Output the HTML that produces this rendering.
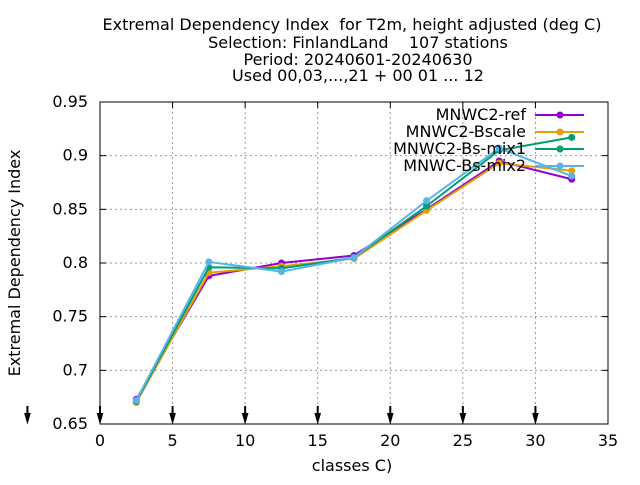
<!DOCTYPE html>
<html><head><meta charset="utf-8"><style>
body{margin:0;background:#fff}
svg{font-family:"DejaVu Sans","Liberation Sans",sans-serif}
text{white-space:pre}
</style></head><body>
<svg id="c" width="640" height="480">
<g font-size="16" text-anchor="middle">
<text x="352" y="30">Extremal Dependency Index  for T2m, height adjusted (deg C)</text>
<text x="358" y="48">Selection: FinlandLand    107 stations</text>
<text x="358" y="65">Period: 20240601-20240630</text>
<text x="358" y="81">Used 00,03,...,21 + 00 01 ... 12</text>
</g>
<text font-size="16" text-anchor="middle" transform="translate(20,263) rotate(-90)">Extremal Dependency Index</text>
<text font-size="16" x="352" y="471" text-anchor="middle">classes C)</text>
<g id="grid"></g><g id="series"></g>
<rect x="100" y="102" width="508" height="322" fill="none" stroke="#000"/>
<g id="legend"></g>
</svg>
<script>
const xCats=[2.5,7.5,12.5,17.5,22.5,27.5,32.5];
const xTicks=[0,5,10,15,20,25,30,35];
const yTicks=[0.65,0.7,0.75,0.8,0.85,0.9,0.95];
const refVals=[0.673,0.788,0.800,0.807,0.850,0.895,0.878];
const bscaleVals=[0.670,0.791,0.797,0.804,0.849,0.893,0.886];
const mix1Vals=[0.671,0.796,0.795,0.805,0.853,0.905,0.917];
const mix2Vals=[0.672,0.801,0.792,0.805,0.858,0.907,0.881];
const names=["MNWC2-ref","MNWC2-Bscale","MNWC2-Bs-mix1","MNWC-Bs-mix2"];
const colors=["#9400d3","#e69f00","#009e73","#56b4e9"];
const X=v=>100+(v/35)*508, Y=v=>424-(v-0.65)/0.3*322;
const NS="http://www.w3.org/2000/svg";
function mk(t,a,p){const e=document.createElementNS(NS,t);for(const k in a)e.setAttribute(k,a[k]);p.appendChild(e);return e;}
const g=document.getElementById('grid');
xTicks.forEach(t=>{const x=X(t);
 if(t>0&&t<35){const l=mk('line',{x1:x,x2:x,y1:102,y2:424,stroke:'#999','stroke-dasharray':'2,3'},g);}
 const tx=mk('text',{x:x,y:446,'font-size':16,'text-anchor':'middle'},g);tx.textContent=t;
 
 mk('line',{x1:x,x2:x,y1:102,y2:108,stroke:'#000'},g);
});
[-5,0,5,10,15,20,25,30].forEach(t=>{const x=X(t);
 const a=mk('path',{d:`M${x},406 L${x},420 M${x-2},414 L${x},421 L${x+2},414 Z`,stroke:'#000','stroke-width':2,fill:'#000'},g);
 });
yTicks.forEach(t=>{const y=Y(t);
 if(t>0.65&&t<0.95){const l=mk('line',{x1:100,x2:608,y1:y,y2:y,stroke:'#999','stroke-dasharray':'2,3'},g);}
 const tx=mk('text',{x:88,y:y+5,'font-size':16,'text-anchor':'end'},g);tx.textContent=t;
 
 mk('line',{x1:100,x2:106,y1:y,y2:y,stroke:'#000'},g);mk('line',{x1:602,x2:608,y1:y,y2:y,stroke:'#000'},g);
});
const s=document.getElementById('series'),lg=document.getElementById('legend');
[refVals,bscaleVals,mix1Vals,mix2Vals].forEach((vals,i)=>{
 const gg=mk('g',{},s);
 mk('polyline',{points:vals.map((v,j)=>X(xCats[j])+','+Y(v)).join(' '),fill:'none',stroke:colors[i],'stroke-width':2},gg);
 vals.forEach((v,j)=>{const c=mk('circle',{cx:X(xCats[j]),cy:Y(v),r:3.5,fill:colors[i]},gg);});
 const y=115+i*17;
 const le=mk('g',{},lg);
 const t=mk('text',{x:526,y:y+5,'font-size':16,'text-anchor':'end'},le);t.textContent=names[i];
 mk('line',{x1:535,x2:584,y1:y,y2:y,stroke:colors[i],'stroke-width':2},le);
 mk('circle',{cx:560,cy:y,r:3.5,fill:colors[i]},le);
});
</script>
</body></html>
